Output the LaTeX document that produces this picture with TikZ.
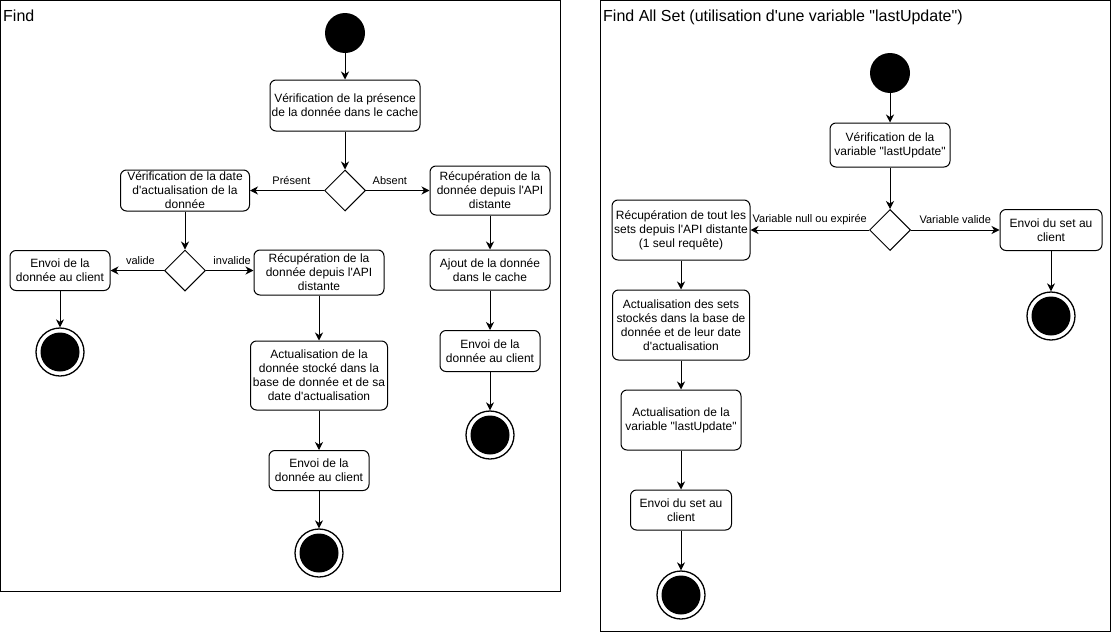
\documentclass[tikz,border=0pt]{standalone}
\usepackage{fontspec}
\setmainfont{Liberation Sans}[Ligatures=TeXOff]
\usetikzlibrary{shapes.geometric,arrows.meta}
\begin{document}
\begin{tikzpicture}[x=1pt,y=-1pt,
 every node/.style={font=\fontsize{12}{14}\selectfont},
 box/.style={draw, rounded corners=6pt, align=center, inner sep=0pt, line width=1pt},
 startst/.style={circle, fill=black, minimum size=40pt, inner sep=0pt},
 endst/.style={circle, draw, line width=1.3pt, fill=white, minimum size=48pt, inner sep=0pt,
   path picture={\fill[black] (path picture bounding box.center) circle (19.5pt);}},
 dec/.style={diamond, draw, line width=1pt, minimum width=41pt, minimum height=41pt, inner sep=0pt},
 arr/.style={-{Stealth[length=8pt,width=8pt,inset=2.5pt]}, line width=1pt},
 lbl/.style={font=\fontsize{11}{13}\selectfont, inner sep=1pt, yshift=10pt},
 ttl/.style={font=\fontsize{16}{19}\selectfont, anchor=base west, inner sep=0pt},
 frame/.style={draw, line width=1pt}
]
\useasboundingbox (0,0) rectangle (1111,632);
\draw[frame] (0.5,0.5) rectangle (560,591);
\draw[frame] (600.5,0.5) rectangle (1110.5,631);
\node[ttl] (t1) at (3,21) {Find};
\node[ttl] (t2) at (603,21) {Find All Set (utilisation d'une variable "lastUpdate")};

% ---- Find ----
\node[startst] (s1) at (345,33) {};
\node[box, minimum width=150pt, minimum height=51pt] (b1) at (345,105.5) {Vérification de la présence\\de la donnée dans le cache};
\node[dec] (d1) at (345,190.5) {};
\node[box, minimum width=129pt, minimum height=41pt] (b2) at (185,190.5) {Vérification de la date\\d'actualisation de la\\donnée};
\node[box, minimum width=120pt, minimum height=49pt] (b3) at (490,190.5) {Récupération de la\\donnée depuis l'API\\distante};
\node[dec] (d2) at (185,270.5) {};
\node[box, minimum width=100pt, minimum height=40pt] (b4) at (60,270.5) {Envoi de la\\donnée au client};
\node[box, minimum width=130pt, minimum height=45pt] (b5) at (319,272.5) {Récupération de la\\donnée depuis l'API\\distante};
\node[box, minimum width=137pt, minimum height=69pt] (b6) at (319,375.5) {Actualisation de la\\donnée stocké dans la\\base de donnée et de sa\\date d'actualisation};
\node[box, minimum width=100pt, minimum height=40pt] (b7) at (319,470.5) {Envoi de la\\donnée au client};
\node[box, minimum width=120pt, minimum height=40pt] (b8) at (490,270) {Ajout de la donnée\\dans le cache};
\node[box, minimum width=100pt, minimum height=41pt] (b9) at (490,351) {Envoi de la\\donnée au client};
\node[endst] (e1) at (60,352) {};
\node[endst] (e2) at (490,435) {};
\node[endst] (e3) at (319,553) {};

\draw[arr] (s1) -- (b1);
\draw[arr] (b1) -- (d1);
\draw[arr] (d1) -- node[lbl, pos=0.44] {Présent} (b2);
\draw[arr] (d1) -- node[lbl, pos=0.375] {Absent} (b3);
\draw[arr] (b2) -- (d2);
\draw[arr] (d2) -- node[lbl, pos=0.44] {valide} (b4);
\draw[arr] (d2.east) -- node[lbl, pos=0.55] {invalide} (d2.east -| b5.west);
\draw[arr] (b4) -- (e1);
\draw[arr] (b5) -- (b6);
\draw[arr] (b6) -- (b7);
\draw[arr] (b7) -- (e3);
\draw[arr] (b3) -- (b8);
\draw[arr] (b8) -- (b9);
\draw[arr] (b9) -- (e2);

% ---- Find All Set ----
\node[startst] (s2) at (890,73) {};
\node[box, minimum width=120pt, minimum height=44pt] (r1) at (890,145) {Vérification de la\\variable "lastUpdate"};
\node[dec] (d3) at (890,230) {};
\node[box, minimum width=138pt, minimum height=60pt] (r2) at (681,230) {Récupération de tout les\\sets depuis l'API distante\\(1 seul requête)};
\node[box, minimum width=102pt, minimum height=41pt] (r3) at (1051,230) {Envoi du set au\\client};
\node[endst] (e4) at (1051,316) {};
\node[box, minimum width=137pt, minimum height=70pt] (r4) at (681,325) {Actualisation des sets\\stockés dans la base de\\donnée et de leur date\\d'actualisation};
\node[box, minimum width=120pt, minimum height=60pt] (r5) at (681,420) {Actualisation de la\\variable "lastUpdate"};
\node[box, minimum width=101pt, minimum height=40pt] (r6) at (681,510) {Envoi du set au\\client};
\node[endst] (e5) at (681,595) {};

\draw[arr] (s2) -- (r1);
\draw[arr] (r1) -- (d3);
\draw[arr] (d3) -- node[lbl, pos=0.5] {Variable null ou expirée} (r2);
\draw[arr] (d3) -- node[lbl, pos=0.5] {Variable valide} (r3);
\draw[arr] (r3) -- (e4);
\draw[arr] (r2) -- (r4);
\draw[arr] (r4) -- (r5);
\draw[arr] (r5) -- (r6);
\draw[arr] (r6) -- (e5);
\end{tikzpicture}
\end{document}
